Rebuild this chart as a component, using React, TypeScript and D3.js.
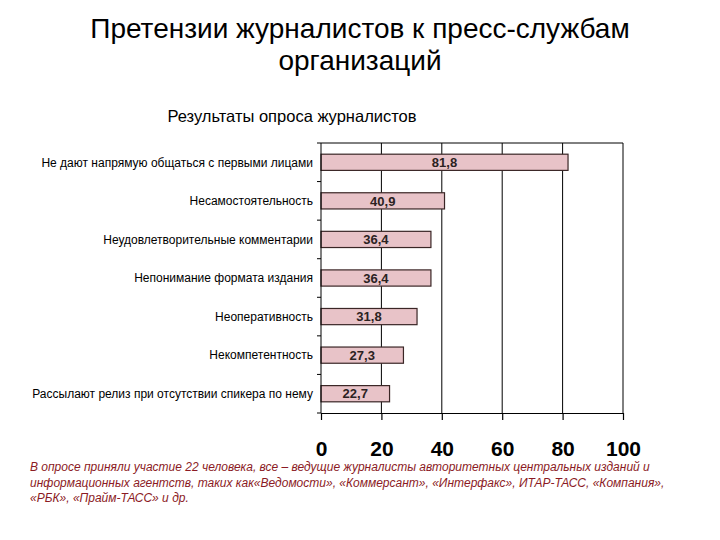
import React, { useEffect, useRef } from 'react';
import * as d3 from 'd3';

const categories = [
  'Не дают напрямую общаться с первыми лицами',
  'Несамостоятельность',
  'Неудовлетворительные комментарии',
  'Непонимание формата издания',
  'Неоперативность',
  'Некомпетентность',
  'Рассылают релиз при отсутствии спикера по нему',
];
const values = [81.8, 40.9, 36.4, 36.4, 31.8, 27.3, 22.7];
const xTicks = [0, 20, 40, 60, 80, 100];

const titleLines = ['Претензии журналистов к пресс-службам', 'организаций'];
const chartTitle = 'Результаты опроса журналистов';
const noteLines = [
  'В опросе приняли участие 22 человека, все – ведущие журналисты авторитетных центральных изданий и',
  'информационных агентств, таких как«Ведомости», «Коммерсант», «Интерфакс», ИТАР-ТАСС, «Компания»,',
  '«РБК», «Прайм-ТАСС» и др.',
];

const W = 720;
const H = 540;

const App = () => {
  const svgRef = useRef<SVGSVGElement | null>(null);

  useEffect(() => {
    if (!svgRef.current) return;
    const svg = d3.select(svgRef.current);
    svg.selectAll('*').remove();

    const font = 'Liberation Sans, Arial, sans-serif';
    const plot = { left: 321, right: 623, top: 143, bottom: 413 };

    // main title
    svg.append('g')
      .selectAll('text')
      .data(titleLines)
      .join('text')
      .attr('x', W / 2)
      .attr('y', (d, i) => 38 + i * 32)
      .attr('text-anchor', 'middle')
      .style('font-family', font)
      .style('font-size', '28px')
      .attr('fill', '#000')
      .text(d => d);

    svg.append('text')
      .attr('x', 292)
      .attr('y', 122)
      .attr('text-anchor', 'middle')
      .style('font-family', font)
      .style('font-size', '16.5px')
      .attr('fill', '#000')
      .text(chartTitle);

    const x = d3.scaleLinear().domain([0, 100]).range([plot.left, plot.right]);
    const y = d3.scaleBand()
      .domain(categories)
      .range([plot.top, plot.bottom])
      .paddingInner(0.58)
      .paddingOuter(0.29);

    const g = svg.append('g');

    // vertical gridlines
    g.selectAll('line.grid')
      .data(xTicks.slice(1))
      .join('line')
      .attr('class', 'grid')
      .attr('x1', d => x(d))
      .attr('x2', d => x(d))
      .attr('y1', plot.top)
      .attr('y2', plot.bottom)
      .attr('stroke', '#000')
      .attr('stroke-width', 1);

    // top border
    g.append('line')
      .attr('x1', plot.left)
      .attr('x2', plot.right)
      .attr('y1', plot.top)
      .attr('y2', plot.top)
      .attr('stroke', '#000');

    // bars
    g.selectAll('rect.bar')
      .data(values)
      .join('rect')
      .attr('class', 'bar')
      .attr('x', x(0))
      .attr('y', (d, i) => y(categories[i])!)
      .attr('width', d => x(d) - x(0))
      .attr('height', y.bandwidth())
      .attr('fill', '#e8c3c8')
      .attr('stroke', '#3a2626')
      .attr('stroke-width', 1.2);

    // value labels
    g.selectAll('text.val')
      .data(values)
      .join('text')
      .attr('class', 'val')
      .attr('x', d => (x(0) + x(d)) / 2)
      .attr('y', (d, i) => y(categories[i])! + y.bandwidth() / 2)
      .attr('dy', '0.36em')
      .attr('text-anchor', 'middle')
      .style('font-family', font)
      .style('font-size', '13px')
      .style('font-weight', 'bold')
      .attr('fill', '#2b2222')
      .text(d => d.toFixed(1).replace('.', ','));

    // left axis
    const step = y.step();
    const bounds = d3.range(categories.length + 1).map(i => plot.top + i * step);
    g.append('line')
      .attr('x1', plot.left)
      .attr('x2', plot.left)
      .attr('y1', plot.top)
      .attr('y2', plot.bottom)
      .attr('stroke', '#000');
    g.selectAll('line.ytick')
      .data(bounds)
      .join('line')
      .attr('class', 'ytick')
      .attr('x1', plot.left - 4)
      .attr('x2', plot.left)
      .attr('y1', d => d)
      .attr('y2', d => d)
      .attr('stroke', '#000');

    g.selectAll('text.cat')
      .data(categories)
      .join('text')
      .attr('class', 'cat')
      .attr('x', plot.left - 8)
      .attr('y', d => y(d)! + y.bandwidth() / 2)
      .attr('dy', '0.36em')
      .attr('text-anchor', 'end')
      .style('font-family', font)
      .style('font-size', '12px')
      .attr('fill', '#000')
      .text(d => d);

    // bottom axis
    const xAxis = g.append('g')
      .attr('transform', `translate(0, ${plot.bottom})`)
      .call(d3.axisBottom(x).tickValues(xTicks).tickSize(7).tickSizeOuter(0).tickPadding(21));
    xAxis.select('.domain').attr('stroke', '#000').attr('stroke-width', 1.2);
    xAxis.selectAll('.tick line').attr('stroke', '#000').attr('stroke-width', 1.2);
    xAxis.selectAll('.tick text')
      .attr('fill', '#000')
      .style('font-family', font)
      .style('font-size', '21px')
      .style('font-weight', 'bold');

    // footnote
    svg.append('g')
      .selectAll('text')
      .data(noteLines)
      .join('text')
      .attr('x', 30)
      .attr('y', (d, i) => 471 + i * 15.5)
      .style('font-family', font)
      .style('font-size', '12px')
      .style('font-style', 'italic')
      .attr('fill', '#8b1a24')
      .text(d => d);
  }, []);

  return (
    <svg
      ref={svgRef}
      width={W}
      height={H}
      style={{ position: 'absolute', left: 0, top: 0, background: '#fff' }}
    />
  );
};

export default App;
